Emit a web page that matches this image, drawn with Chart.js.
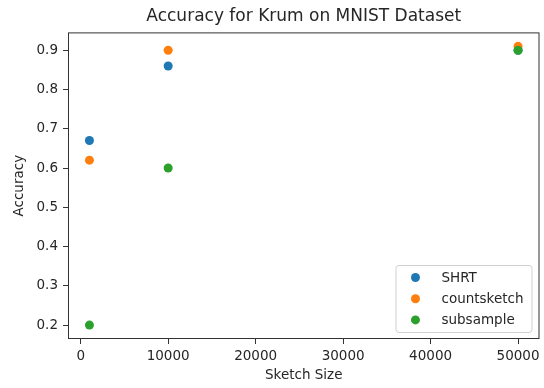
<!DOCTYPE html>
<html>
<head>
<meta charset="utf-8">
<script src="https://cdn.jsdelivr.net/npm/chart.js@4.4.1/dist/chart.umd.min.js"></script>
<style>
  html, body { margin: 0; padding: 0; background: #fff; }
  #wrap { width: 544px; height: 388px; }
</style>
</head>
<body>
<div id="wrap"><canvas id="chart" width="544" height="388"></canvas></div>
<script>
// Krum accuracy per sketch size
const sketchSizes = [1000, 10000, 50000];
const shrtAcc = [0.67, 0.86, 0.90];
const countsketchAcc = [0.62, 0.90, 0.91];
const subsampleAcc = [0.20, 0.60, 0.90];

const seriesNames = ["SHRT", "countsketch", "subsample"];
const seriesColors = ["#1f77b4", "#ff7f0e", "#2ca02c"];

const xTicks = [0, 10000, 20000, 30000, 40000, 50000];
const yTicks = [0.2, 0.3, 0.4, 0.5, 0.6, 0.7, 0.8, 0.9];

const FONT = '"DejaVu Sans", "Liberation Sans", sans-serif';
const TEXT = "#262626";
const AXIS = "#333333";
const FS = 13.5;

const toPoints = (ys) => sketchSizes.map((x, i) => ({ x: x, y: ys[i] }));

// frame on all four sides + legend box in the lower right corner
const frameAndLegend = {
  id: "frameAndLegend",
  afterDraw(chart) {
    const { ctx, chartArea: a } = chart;
    ctx.save();
    ctx.strokeStyle = AXIS;
    ctx.lineWidth = 1;
    ctx.strokeRect(a.left + 0.5, a.top + 0.5, a.right - a.left - 1, a.bottom - a.top - 1);

    ctx.font = FS + "px " + FONT;
    const items = chart.data.datasets.map((d) => ({ text: d.label, color: d.backgroundColor }));
    const tw = Math.max(...items.map((it) => ctx.measureText(it.text).width));
    const w = 46 + tw + 8;
    const h = 67;
    const x = a.right - 8 - w;
    const y = a.bottom - 7 - h;

    ctx.beginPath();
    ctx.roundRect(x + 0.5, y + 0.5, w, h, 3);
    ctx.fillStyle = "rgba(255,255,255,0.8)";
    ctx.fill();
    ctx.strokeStyle = "#d0d0d0";
    ctx.stroke();

    ctx.textBaseline = "middle";
    ctx.textAlign = "left";
    items.forEach((it, i) => {
      const cy = y + 12.5 + i * 21.2;
      ctx.beginPath();
      ctx.arc(x + 20, cy, 4.5, 0, Math.PI * 2);
      ctx.fillStyle = it.color;
      ctx.fill();
      ctx.fillStyle = TEXT;
      ctx.fillText(it.text, x + 46, cy + 1);
    });
    ctx.restore();
  }
};

new Chart(document.getElementById("chart"), {
  type: "scatter",
  data: {
    datasets: [
      { label: seriesNames[0], data: toPoints(shrtAcc), backgroundColor: seriesColors[0], order: 2 },
      { label: seriesNames[1], data: toPoints(countsketchAcc), backgroundColor: seriesColors[1], order: 1 },
      { label: seriesNames[2], data: toPoints(subsampleAcc), backgroundColor: seriesColors[2], order: 0 }
    ]
  },
  options: {
    responsive: false,
    animation: false,
    devicePixelRatio: 1,
    layout: { padding: { left: 0, right: 3, top: 0, bottom: 0 } },
    elements: {
      point: { radius: 4.5, hoverRadius: 4.5, borderWidth: 0 }
    },
    plugins: {
      legend: { display: false },
      tooltip: { enabled: false },
      title: {
        display: true,
        fullSize: false,
        text: "Accuracy for Krum on MNIST Dataset",
        color: TEXT,
        font: { family: FONT, size: 17, weight: "normal", lineHeight: 1.2 },
        padding: { top: 6, bottom: 6 }
      }
    },
    scales: {
      x: {
        type: "linear",
        position: "bottom",
        min: -1450,
        max: 52450,
        afterBuildTicks: (s) => { s.ticks = xTicks.map((v) => ({ value: v })); },
        afterFit: (s) => { s.height = 49; },
        ticks: {
          color: TEXT,
          font: { family: FONT, size: FS },
          padding: 4,
          maxRotation: 0,
          callback: (v) => String(v)
        },
        grid: { display: true, drawOnChartArea: false, drawTicks: true, tickLength: 5, tickColor: AXIS },
        border: { display: false },
        title: {
          display: true,
          text: "Sketch Size",
          color: TEXT,
          font: { family: FONT, size: FS },
          padding: { top: 0, bottom: 4 }
        }
      },
      y: {
        type: "linear",
        min: 0.1645,
        max: 0.9455,
        afterBuildTicks: (s) => { s.ticks = yTicks.map((v) => ({ value: v })); },
        afterFit: (s) => { s.width = 68; },
        ticks: {
          color: TEXT,
          font: { family: FONT, size: FS },
          padding: 5,
          callback: (v) => v.toFixed(1)
        },
        grid: { display: true, drawOnChartArea: false, drawTicks: true, tickLength: 5, tickColor: AXIS },
        border: { display: false },
        title: {
          display: true,
          text: "Accuracy",
          color: TEXT,
          font: { family: FONT, size: FS },
          padding: { top: 11, bottom: 0 }
        }
      }
    }
  },
  plugins: [frameAndLegend]
});
</script>
</body>
</html>
